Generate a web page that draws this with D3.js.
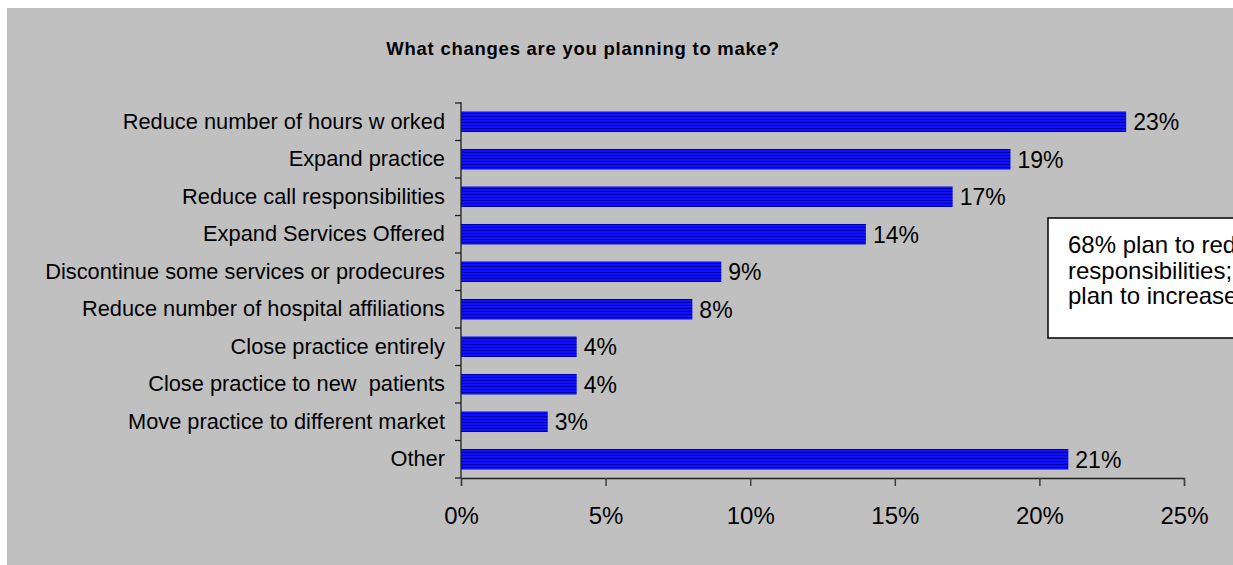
<!DOCTYPE html>
<html>
<head>
<meta charset="utf-8">
<script src="https://cdn.jsdelivr.net/npm/d3@7/dist/d3.min.js"></script>
<style>
  html, body { margin: 0; padding: 0; background: #ffffff; }
  svg { display: block; }
  text { font-family: "Liberation Sans", Arial, sans-serif; fill: #000; }
</style>
</head>
<body>
<svg id="chart" width="1233" height="565"></svg>
<script>
// Survey answers, top to bottom
const categories = [
  "Reduce number of hours w orked",
  "Expand practice",
  "Reduce call responsibilities",
  "Expand Services Offered",
  "Discontinue some services or prodecures",
  "Reduce number of hospital affiliations",
  "Close practice entirely",
  "Close practice to new  patients",
  "Move practice to different market",
  "Other"
];
// Share of respondents (%)
const shares = [23, 19, 17, 14, 9, 8, 4, 4, 3, 21];
const xTicks = [0, 5, 10, 15, 20, 25];
const titleText = "What changes are you planning to make?";
const noteLines = ["68% plan to reduce", "responsibilities;", "plan to increase"];

const svg = d3.select("#chart");
const W = 1233, H = 565;

// grey chart area
svg.append("rect").attr("x", 7).attr("y", 8).attr("width", W - 7).attr("height", H - 8)
  .attr("fill", "#c0c0c0");

// striped blue fill for the bars
const defs = svg.append("defs");
const pat = defs.append("pattern").attr("id", "stripes")
  .attr("patternUnits", "userSpaceOnUse").attr("width", 8).attr("height", 3);
pat.append("rect").attr("width", 8).attr("height", 3).attr("fill", "#1010ff");
pat.append("rect").attr("y", 2).attr("width", 8).attr("height", 1).attr("fill", "#0000a8");

const x = d3.scaleLinear().domain([0, 25]).range([461, 1184]);
const y = d3.scaleBand().domain(categories).range([103, 478])
  .paddingInner(0.452).paddingOuter(0.226);

// title
svg.append("text").attr("x", 583).attr("y", 55).attr("text-anchor", "middle")
  .style("font-weight", "bold").style("font-size", "18.5px")
  .style("letter-spacing", "0.75px")
  .text(titleText);

// bars
const data = categories.map((c, i) => ({ c, v: shares[i] }));
svg.append("g").selectAll("rect").data(data).join("rect")
  .attr("x", x(0)).attr("y", d => y(d.c))
  .attr("width", d => x(d.v) - x(0)).attr("height", y.bandwidth())
  .attr("fill", "url(#stripes)");

// value labels
svg.append("g").selectAll("text").data(data).join("text")
  .attr("x", d => x(d.v) + 7).attr("y", d => y(d.c) + y.bandwidth() / 2)
  .attr("dy", "0.36em").style("font-size", "23px")
  .text(d => d.v + "%");

// category labels
svg.append("g").selectAll("text").data(data).join("text")
  .attr("x", 445).attr("y", d => y(d.c) + y.bandwidth() / 2 - 1)
  .attr("dy", "0.36em").attr("text-anchor", "end").style("font-size", "21.8px")
  .style("white-space", "pre")
  .text(d => d.c);

// category axis: line with ticks between the bands
const gy = svg.append("g").attr("stroke", "#202020").attr("stroke-width", 1.3);
gy.append("line").attr("x1", x(0)).attr("x2", x(0)).attr("y1", 102).attr("y2", 478);
const step = y.step();
d3.range(categories.length + 1).forEach(k => {
  const yy = 103 + k * step;
  gy.append("line").attr("x1", x(0) - 6).attr("x2", x(0)).attr("y1", yy).attr("y2", yy);
});

// value axis
const xAxis = d3.axisBottom(x).tickValues(xTicks).tickSize(8).tickPadding(21)
  .tickFormat(d => d + "%");
const gx = svg.append("g").attr("transform", "translate(0,478)").call(xAxis);
gx.select(".domain").attr("stroke", "#202020").attr("stroke-width", 1.3);
gx.selectAll(".tick line").attr("stroke", "#404040").attr("stroke-width", 1.5);
gx.selectAll(".tick text").style("font-size", "24px").attr("fill", "#000")
  .style("font-family", "'Liberation Sans', Arial, sans-serif");

// note box (runs past the right edge)
const note = svg.append("g");
note.append("rect").attr("x", 1048).attr("y", 218).attr("width", 260).attr("height", 120)
  .attr("fill", "#ffffff").attr("stroke", "#000").attr("stroke-width", 1.5);
note.selectAll("text").data(noteLines).join("text")
  .attr("x", 1068).attr("y", (d, i) => 253 + i * 25.5)
  .style("font-size", "24px").text(d => d);
</script>
</body>
</html>
